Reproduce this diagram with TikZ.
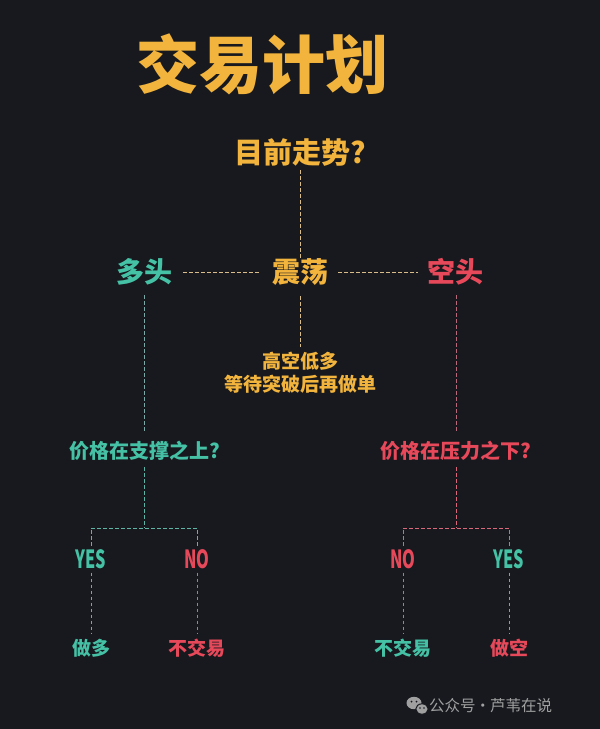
\documentclass[tikz,border=0pt]{standalone}
\usepackage{fontspec}
\newfontfamily\cjk{Noto Sans CJK SC}
\definecolor{bg}{HTML}{17191F}
\definecolor{org}{HTML}{F2B43C}
\definecolor{teal}{HTML}{45C2A5}
\definecolor{redd}{HTML}{E8495A}
\definecolor{lorg}{HTML}{D8BC8A}
\definecolor{lteal}{HTML}{7FA9A6}
\definecolor{lred}{HTML}{B86A7A}
\definecolor{bteal}{HTML}{5FB5A5}
\definecolor{bred}{HTML}{D8687A}
\definecolor{wm}{HTML}{A0A0A0}
\tikzset{
  txt/.style n args={3}{inner sep=0pt, text height=#2pt, text depth=#3pt, font=\cjk\bfseries\fontsize{#1}{#1}\selectfont},
  dl/.style={dashed, dash pattern=on 3.5pt off 2.5pt, line width=0.9pt},
}
\begin{document}
\begin{tikzpicture}[x=1pt,y=-1pt]
\fill[bg] (0,0) rectangle (600,729);
\useasboundingbox (0,0) rectangle (600,729);

\node[txt={63}{55.44}{7.56}, text=org] (title) at (262,65) {交易计划};
\node[txt={29}{25.52}{3.48}, text=org] (q) at (300,152) {目前走势?};

\node[txt={28}{24.64}{3.36}, text=teal] (dt) at (144,272) {多头};
\node[txt={28}{24.64}{3.36}, text=org] (zd) at (300,272) {震荡};
\node[txt={28}{24.64}{3.36}, text=redd] (kt) at (455,272) {空头};

\node[txt={19}{16.72}{2.28}, text=org] (h1) at (300,361) {高空低多};
\node[txt={19}{16.72}{2.28}, text=org] (h2) at (300,384) {等待突破后再做单};

\node[txt={20}{17.6}{2.4}, text=teal] (p1) at (145,451) {价格在支撑之上?};
\node[txt={20}{17.6}{2.4}, text=redd] (p2) at (456,451) {价格在压力之下?};

\node[txt={25}{22}{3}, text=teal] (y1) at (91,559) {\scalebox{0.65}[1]{YES}};
\node[txt={25}{22}{3}, text=redd] (n1) at (197,559) {\scalebox{0.65}[1]{NO}};
\node[txt={25}{22}{3}, text=redd] (n2) at (403,559) {\scalebox{0.65}[1]{NO}};
\node[txt={25}{22}{3}, text=teal] (y2) at (509,559) {\scalebox{0.65}[1]{YES}};

\node[txt={19}{16.72}{2.28}, text=teal] (r1) at (91,648) {做多};
\node[txt={19}{16.72}{2.28}, text=redd] (r2) at (197,648) {不交易};
\node[txt={19}{16.72}{2.28}, text=teal] (r3) at (403,648) {不交易};
\node[txt={19}{16.72}{2.28}, text=redd] (r4) at (509,648) {做空};

\coordinate (b1) at (144,528);
\coordinate (b2) at (456,528);

% connectors
\draw[dl, lorg, shorten <=3.5pt] (q) -- (zd);
\draw[dl, lorg, shorten <=11pt, shorten >=12pt] (dt) -- (zd);
\draw[dl, lorg, shorten <=10pt, shorten >=9pt] (zd) -- (kt);
\draw[dl, lorg, shorten <=10pt, shorten >=4.5pt] (zd) -- (h1);
\draw[dl, lteal, shorten <=9pt, shorten >=9pt] (dt.south) -- (dt.south |- p1.north);
\draw[dl, lred, shorten <=9pt, shorten >=9pt] (kt.south -| b2) -- (b2 |- p2.north);
\draw[dl, bteal, shorten <=6pt] (p1.south -| b1) -- (b1);
\draw[dl, bred, shorten <=6pt] (p2.south -| b2) -- (b2);
\draw[dl, bteal, shorten <=0.5pt, shorten >=0.5pt] (y1.north) -- (y1.north |- b1) -- (n1.north |- b1) -- (n1.north);
\draw[dl, bred, shorten <=0.5pt, shorten >=0.5pt] (n2.north) -- (n2.north |- b2) -- (y2.north |- b2) -- (y2.north);
\draw[dl, bteal, shorten <=1pt, shorten >=5.5pt] (y1) -- (r1);
\draw[dl, bred, shorten <=1pt, shorten >=5.5pt] (n1) -- (r2);
\draw[dl, bred, shorten <=1pt, shorten >=5.5pt] (n2) -- (r3);
\draw[dl, bteal, shorten <=1pt, shorten >=5.5pt] (y2) -- (r4);

% watermark
\fill[wm] (414,703) ellipse (7.5 and 6.2);
\fill[wm] (422,709) ellipse (6.2 and 5.2);
\draw[bg, line width=1pt] (422,709) ellipse (6.2 and 5.2);
\fill[bg] (411.5,701.5) circle (1pt) (416.5,701.5) circle (1pt) (420,708) circle (0.8pt) (424,708) circle (0.8pt);
\node[anchor=west, inner sep=0pt, text height=12pt, text depth=2pt, text=wm, font=\cjk\fontsize{15.5}{15.5}\selectfont] (wt) at (429,706) {公众号\hspace{-0.5pt}·\hspace{-0.5pt}芦苇在说};
\end{tikzpicture}
\end{document}
